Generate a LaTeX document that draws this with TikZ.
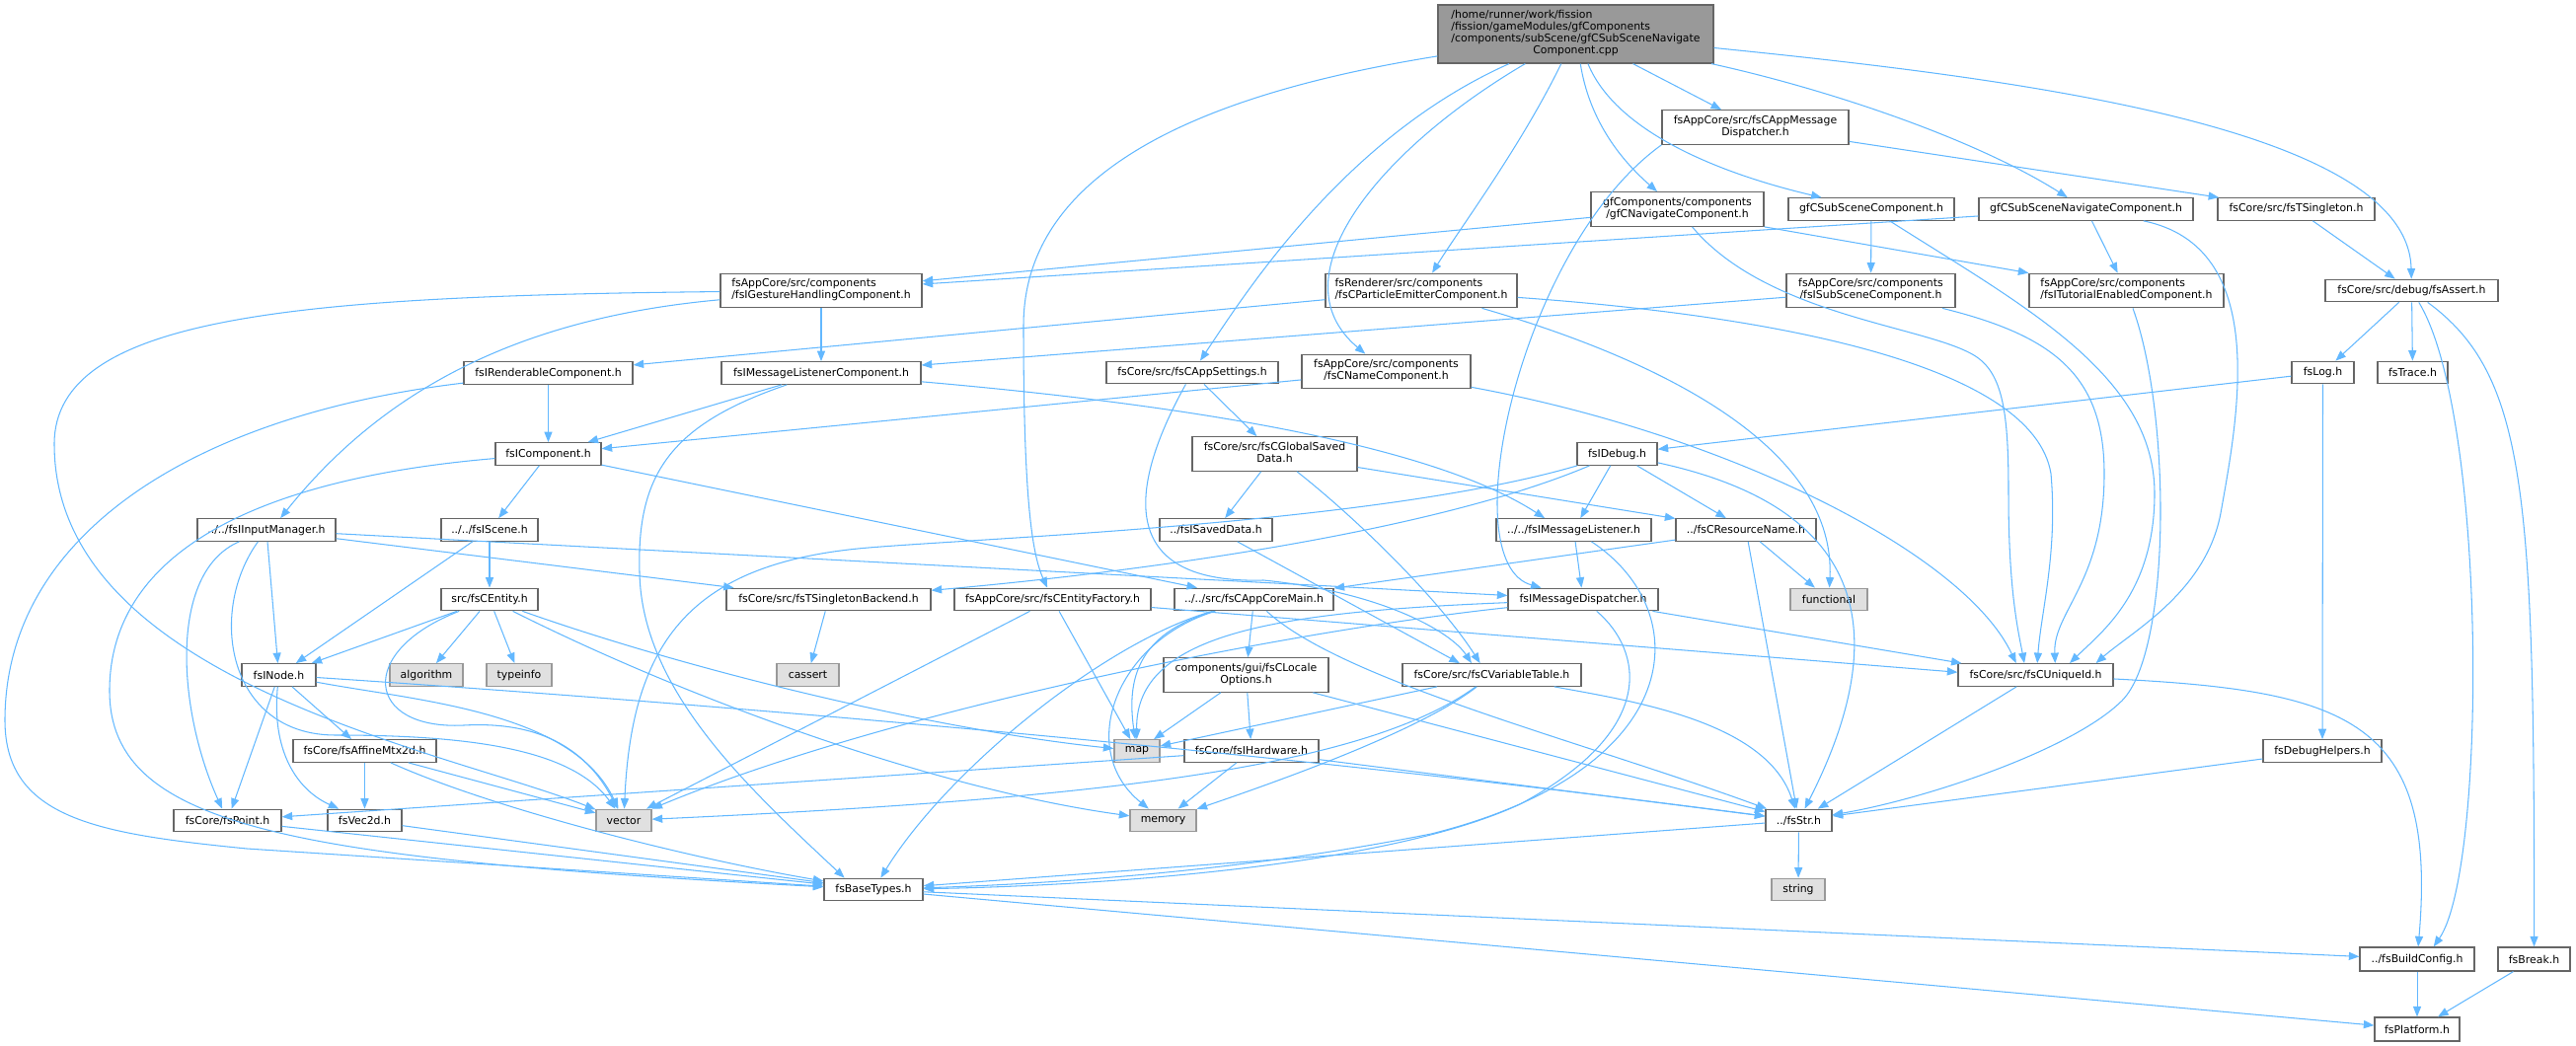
\documentclass[tikz,border=0pt]{standalone}
\usepackage{fontspec}
\setmainfont{DejaVu Sans}
\usetikzlibrary{arrows.meta}
\definecolor{edgeblue}{HTML}{63B8FF}
\definecolor{boxline}{HTML}{666666}
\definecolor{sysfill}{HTML}{E0E0E0}
\definecolor{sysline}{HTML}{999999}
\newcommand{\flines}[2]{\begin{tabular}{@{}l@{}}#1\\\multicolumn{1}{@{}c@{}}{#2}\end{tabular}}
\tikzset{
  file/.style={draw=boxline, fill=white, line width=0.7pt, inner sep=0pt, minimum height=0.45cm,
    font=\fontsize{6.2}{6.85}\selectfont},
  tall/.style={minimum height=0.69cm},
  sysfile/.style={file, draw=sysline, fill=sysfill},
  mainfile/.style={file, fill=sysline},
  inc/.style={draw=edgeblue, line width=0.6pt, -{Triangle[length=6pt,width=4.6pt]}}
}

\begin{document}
\begin{tikzpicture}[x=0.02cm, y=0.02cm]
\useasboundingbox (0,0) rectangle (2610,-1060);

\node[mainfile, minimum width=5.58cm, minimum height=1.18cm] (main) at (1596.5,-34.5)
  {\flines{/home/runner/work/fission\\/fission/gameModules/gfComponents\\/components/subScene/gfCSubSceneNavigate}{Component.cpp}};
\node[file, tall, minimum width=3.78cm] (amd) at (1778.5,-129) {\flines{fsAppCore/src/fsCAppMessage}{Dispatcher.h}};
\node[file, tall, minimum width=3.5cm] (gfnav) at (1699.5,-212) {\flines{gfComponents/components}{/gfCNavigateComponent.h}};
\node[file, minimum width=3.36cm] (gfsub) at (1896,-212) {gfCSubSceneComponent.h};
\node[file, minimum width=4.34cm] (gfsubnav) at (2113.5,-212) {gfCSubSceneNavigateComponent.h};
\node[file, minimum width=3.18cm] (tsing) at (2326.5,-212) {fsCore/src/fsTSingleton.h};
\node[file, tall, minimum width=4.08cm] (gest) at (832,-294.5) {\flines{fsAppCore/src/components}{/fsIGestureHandlingComponent.h}};
\node[file, tall, minimum width=3.88cm] (part) at (1440,-294.5) {\flines{fsRenderer/src/components}{/fsCParticleEmitterComponent.h}};
\node[file, tall, minimum width=3.42cm] (isub) at (1895.5,-294.5) {\flines{fsAppCore/src/components}{/fsISubSceneComponent.h}};
\node[file, tall, minimum width=3.94cm] (tut) at (2154.5,-294.5) {\flines{fsAppCore/src/components}{/fsITutorialEnabledComponent.h}};
\node[file, minimum width=3.5cm] (assert) at (2443.5,-294.5) {fsCore/src/debug/fsAssert.h};
\node[file, minimum width=3.42cm] (rend) at (555.5,-378) {fsIRenderableComponent.h};
\node[file, minimum width=4.04cm] (mlc) at (832,-378) {fsIMessageListenerComponent.h};
\node[file, minimum width=3.48cm] (sett) at (1208,-377.5) {fsCore/src/fsCAppSettings.h};
\node[file, tall, minimum width=3.42cm] (name) at (1404.5,-376.5) {\flines{fsAppCore/src/components}{/fsCNameComponent.h}};
\node[file, minimum width=1.26cm] (log) at (2353.5,-377.5) {fsLog.h};
\node[file, minimum width=1.42cm] (trace) at (2444.5,-377.5) {fsTrace.h};
\node[file, minimum width=2.14cm] (comp) at (555.5,-460) {fsIComponent.h};
\node[file, tall, minimum width=3.34cm] (gsd) at (1291.5,-460) {\flines{fsCore/src/fsCGlobalSaved}{Data.h}};
\node[file, minimum width=1.62cm] (idebug) at (1638.5,-460) {fsIDebug.h};
\node[file, minimum width=2.8cm] (input) at (270,-537) {../../fsIInputManager.h};
\node[file, minimum width=1.96cm] (scene) at (496,-537) {../../fsIScene.h};
\node[file, minimum width=2.28cm] (saved) at (1232,-537) {../fsISavedData.h};
\node[file, minimum width=3.14cm] (ml) at (1594.5,-537) {../../fsIMessageListener.h};
\node[file, minimum width=2.84cm] (resname) at (1769,-537) {../fsCResourceName.h};
\node[file, minimum width=1.96cm] (entity) at (496,-607.5) {src/fsCEntity.h};
\node[file, minimum width=4.14cm] (tsb) at (839.5,-607.5) {fsCore/src/fsTSingletonBackend.h};
\node[file, minimum width=3.98cm] (efact) at (1066.5,-607.5) {fsAppCore/src/fsCEntityFactory.h};
\node[file, minimum width=3.22cm] (acm) at (1270.5,-607.5) {../../src/fsCAppCoreMain.h};
\node[file, minimum width=3.04cm] (md) at (1604,-607.5) {fsIMessageDispatcher.h};
\node[sysfile, minimum width=1.56cm] (functional) at (1853,-607.5) {functional};
\node[file, minimum width=1.5cm] (inode) at (282.5,-684) {fsINode.h};
\node[sysfile, minimum width=1.48cm] (algorithm) at (432,-684) {algorithm};
\node[sysfile, minimum width=1.32cm] (typeinfo) at (526,-684) {typeinfo};
\node[sysfile, minimum width=1.26cm] (cassert) at (818.5,-684) {cassert};
\node[file, tall, minimum width=3.34cm] (locale) at (1262.5,-684) {\flines{components/gui/fsCLocale}{Options.h}};
\node[file, minimum width=3.62cm] (vtable) at (1511.5,-684) {fsCore/src/fsCVariableTable.h};
\node[file, minimum width=3.14cm] (uid) at (2062.5,-684) {fsCore/src/fsCUniqueId.h};
\node[file, minimum width=2.9cm] (affine) at (369.5,-761) {fsCore/fsAffineMtx2d.h};
\node[sysfile, minimum width=0.92cm] (map) at (1152,-761) {map};
\node[file, minimum width=2.72cm] (hw) at (1268,-761) {fsCore/fsIHardware.h};
\node[file, minimum width=2.4cm] (dbgh) at (2353,-761) {fsDebugHelpers.h};
\node[file, minimum width=2.18cm] (point) at (230.5,-831.5) {fsCore/fsPoint.h};
\node[file, minimum width=1.5cm] (vec) at (369.5,-831.5) {fsVec2d.h};
\node[sysfile, minimum width=1.12cm] (vector) at (632,-831.5) {vector};
\node[sysfile, minimum width=1.34cm] (memory) at (1178.5,-831.5) {memory};
\node[file, minimum width=1.34cm] (str) at (1822.5,-831.5) {../fsStr.h};
\node[file, minimum width=2cm] (base) at (885,-901.5) {fsBaseTypes.h};
\node[sysfile, minimum width=1.08cm] (string) at (1822,-901.5) {string};
\node[file, minimum width=2.32cm, minimum height=0.48cm] (bcfg) at (2449,-972) {../fsBuildConfig.h};
\node[file, minimum width=1.46cm, minimum height=0.48cm] (brk) at (2567.5,-972) {fsBreak.h};
\node[file, minimum width=1.72cm, minimum height=0.48cm] (plat) at (2449,-1043) {fsPlatform.h};

% the .cpp file
\draw[inc] (main) .. controls (1250,-90) and (1037,-160) .. (1037,-330) .. controls (1037,-500) and (1045,-560) .. (efact);
\draw[inc] (main) .. controls (1360,-140) and (1260,-300) .. (sett);
\draw[inc] (main) .. controls (1400,-150) and (1290,-280) .. (name);
\draw[inc] (main) .. controls (1540,-150) and (1480,-230) .. (part);
\draw[inc] (main) .. controls (1610,-120) and (1640,-160) .. (gfnav);
\draw[inc] (main) -- (amd);
\draw[inc] (main) .. controls (1640,-140) and (1760,-180) .. (gfsub);
\draw[inc] (main) .. controls (1850,-90) and (2000,-140) .. (gfsubnav);
\draw[inc] (main) .. controls (2050,-80) and (2440,-130) .. (assert);

\draw[inc] (amd) -- (tsing);
\draw[inc] (amd.south west) .. controls (1540,-250) and (1470,-570) .. (md);

\draw[inc] (gfnav) -- (gest);
\draw[inc] (gfnav.south east) -- (tut.north west);
\draw[inc] (gfnav) .. controls (1790,-320) and (1950,-330) .. (2000,-360) .. controls (2030,-378) and (2035,-420) .. (2035,-500) .. controls (2035,-600) and (2045,-640) .. (uid.134);

\draw[inc] (gfsub) -- (isub);
\draw[inc] (gfsub) .. controls (2050,-310) and (2183,-380) .. (2183,-500) .. controls (2183,-600) and (2130,-640) .. (uid.19);

\draw[inc] (gfsubnav) -- (gest);
\draw[inc] (gfsubnav) -- (tut);
\draw[inc] (gfsubnav) .. controls (2300,-250) and (2268,-420) .. (2250,-520) .. controls (2235,-600) and (2160,-640) .. (uid.11);

\draw[inc] (tsing) -- (assert);
\draw[inc] (assert) -- (log);
\draw[inc] (assert) -- (trace);
\draw[inc] (assert) .. controls (2520,-420) and (2520,-880) .. (bcfg.37);
\draw[inc] (assert) .. controls (2560,-380) and (2568,-500) .. (brk);
\draw[inc] (log) -- (idebug);
\draw[inc] (log) -- (dbgh);
\draw[inc] (dbgh) -- (str);

\draw[inc] (isub) -- (mlc);
\draw[inc] (isub) .. controls (2080,-340) and (2132,-380) .. (2132,-480) .. controls (2132,-590) and (2080,-620) .. (uid.31);
\draw[inc] (tut) .. controls (2200,-420) and (2200,-660) .. (2150,-710) .. controls (2100,-760) and (1950,-810) .. (str);

\draw[inc] (gest) .. controls (300,-300) and (55,-320) .. (55,-450) .. controls (55,-690) and (450,-760) .. (vector);
\draw[inc] (gest) .. controls (550,-320) and (400,-380) .. (input.40);
\draw[inc] (gest) -- (mlc);

\draw[inc] (rend) -- (comp);
\draw[inc] (rend) .. controls (200,-420) and (5,-540) .. (5,-730) .. controls (5,-830) and (100,-845) .. (250,-860) -- (base);
\draw[inc] (mlc) -- (comp);
\draw[inc] (mlc) .. controls (680,-430) and (645,-480) .. (648,-580) .. controls (650,-700) and (760,-800) .. (base.158);
\draw[inc] (mlc) .. controls (1200,-410) and (1450,-450) .. (ml.158);

\draw[inc] (comp) .. controls (260,-485) and (111,-560) .. (111,-700) .. controls (111,-840) and (300,-870) .. (base);
\draw[inc] (comp) -- (scene);
\draw[inc] (comp) -- (acm);

\draw[inc] (input) -- (md);
\draw[inc] (input) -- (tsb);
\draw[inc] (input) -- (inode);
\draw[inc] (input) .. controls (170,-580) and (180,-720) .. (point);
\draw[inc] (input) .. controls (210,-620) and (230,-745) .. (340,-745) .. controls (480,-745) and (580,-760) .. (vector);

\draw[inc] (scene) -- (entity);
\draw[inc] (scene) -- (inode);
\draw[inc] (entity) -- (inode);
\draw[inc] (entity) -- (algorithm);
\draw[inc] (entity) -- (typeinfo);
\draw[inc] (entity) .. controls (360,-660) and (370,-740) .. (470,-735) .. controls (560,-730) and (600,-770) .. (vector);
\draw[inc] (entity) .. controls (700,-680) and (950,-740) .. (map);
\draw[inc] (entity) .. controls (700,-710) and (950,-800) .. (memory);
\draw[inc] (tsb) -- (cassert);

\draw[inc] (efact) -- (uid.178);
\draw[inc] (efact) -- (vector);
\draw[inc] (efact) -- (map);

\draw[inc] (acm) -- (locale);
\draw[inc] (acm) .. controls (1160,-640) and (1140,-680) .. (map);
\draw[inc] (acm) .. controls (1130,-650) and (1090,-760) .. (memory);
\draw[inc] (acm) .. controls (1120,-650) and (960,-780) .. (base);
\draw[inc] (acm) .. controls (1360,-690) and (1600,-750) .. (str);

\draw[inc] (md) -- (uid.171);
\draw[inc] (md) .. controls (1665,-660) and (1680,-740) .. (1540,-815) .. controls (1400,-880) and (1100,-898) .. (base);
\draw[inc] (md) .. controls (1300,-640) and (900,-720) .. (vector);
\draw[inc] (md) .. controls (1300,-620) and (1150,-640) .. (map);

\draw[inc] (ml) -- (md);
\draw[inc] (ml) .. controls (1720,-620) and (1710,-780) .. (1450,-845) .. controls (1250,-885) and (1050,-896) .. (base);

\draw[inc] (resname) -- (functional);
\draw[inc] (resname) -- (str);
\draw[inc] (resname) -- (acm);

\draw[inc] (idebug) -- (ml);
\draw[inc] (idebug) -- (resname);
\draw[inc] (idebug) .. controls (1870,-510) and (1930,-620) .. (str);
\draw[inc] (idebug) .. controls (1400,-530) and (1000,-545) .. (880,-555) .. controls (700,-570) and (640,-650) .. (vector);
\draw[inc] (idebug) .. controls (1450,-540) and (1150,-580) .. (tsb);

\draw[inc] (gsd) -- (saved);
\draw[inc] (gsd) .. controls (1380,-530) and (1460,-610) .. (vtable.135);
\draw[inc] (gsd) -- (resname);
\draw[inc] (saved) -- (vtable.160);
\draw[inc] (sett) -- (gsd);
\draw[inc] (sett) .. controls (1140,-500) and (1135,-592) .. (1280,-588) .. controls (1400,-600) and (1470,-640) .. (vtable.150);

\draw[inc] (name) -- (comp);
\draw[inc] (name) .. controls (1750,-440) and (1990,-560) .. (uid.149);
\draw[inc] (part) -- (rend);
\draw[inc] (part) .. controls (1800,-320) and (2060,-370) .. (2078,-480) .. controls (2085,-560) and (2068,-620) .. (uid.82);
\draw[inc] (part) .. controls (1700,-370) and (1860,-460) .. (functional);

\draw[inc] (locale) -- (map);
\draw[inc] (locale) -- (hw);
\draw[inc] (locale) -- (str);
\draw[inc] (vtable) -- (map);
\draw[inc] (vtable) .. controls (1440,-740) and (1300,-790) .. (memory);
\draw[inc] (vtable) .. controls (1380,-780) and (1100,-810) .. (vector);
\draw[inc] (vtable) .. controls (1650,-710) and (1790,-730) .. (str);
\draw[inc] (hw) -- (point);
\draw[inc] (hw) -- (memory);
\draw[inc] (hw) -- (str);

\draw[inc] (inode) -- (point);
\draw[inc] (inode) .. controls (275,-760) and (300,-800) .. (vec);
\draw[inc] (inode) -- (affine);
\draw[inc] (inode) .. controls (420,-710) and (580,-720) .. (vector);
\draw[inc] (inode) .. controls (600,-705) and (1200,-750) .. (str);
\draw[inc] (affine) -- (vec);
\draw[inc] (affine) -- (vector);
\draw[inc] (affine) .. controls (500,-820) and (700,-870) .. (base);
\draw[inc] (point) -- (base);
\draw[inc] (vec) -- (base);

\draw[inc] (str) -- (base);
\draw[inc] (str) -- (string);
\draw[inc] (uid) -- (str);
\draw[inc] (uid) .. controls (2380,-700) and (2470,-730) .. (bcfg);
\draw[inc] (base) -- (bcfg);
\draw[inc] (base) -- (plat);
\draw[inc] (bcfg) -- (plat);
\draw[inc] (brk) -- (plat);
\end{tikzpicture}
\end{document}
